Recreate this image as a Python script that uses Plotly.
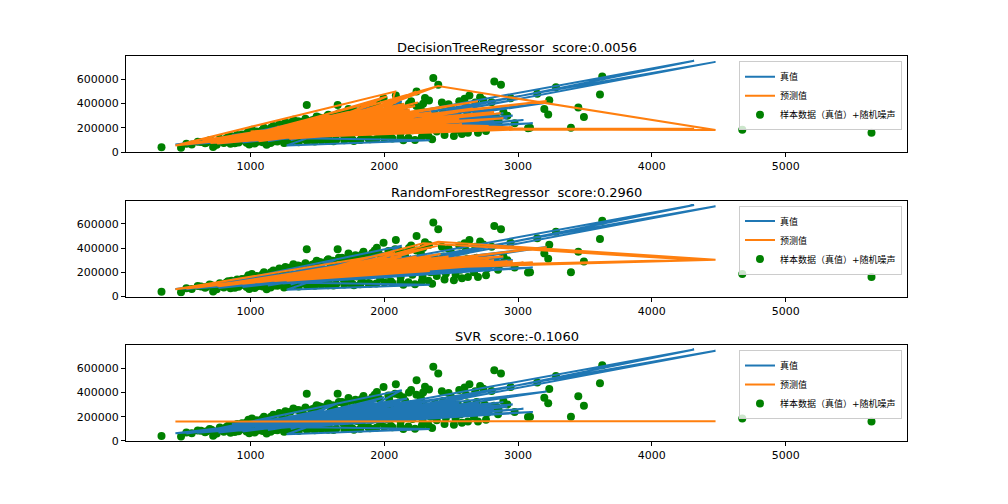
import plotly.graph_objects as go

# training samples (GrLivArea, SalePrice)
train_x = [334, 480, 520, 560, 605, 630, 660, 672, 694, 708, 720, 729, 747, 760, 770, 796,
           816, 832, 845, 858, 864, 882, 894, 900, 912, 925, 936, 948, 960, 970, 984, 990, 996,
           1008, 1022, 1040, 1052, 1064, 1078, 1086, 1094, 1108, 1120, 1128, 1140, 1152, 1164, 1176, 1188, 1196,
           1208, 1218, 1230, 1242, 1250, 1262, 1274, 1286, 1298, 1310, 1318, 1330, 1342, 1354, 1366, 1378, 1390, 1398,
           1408, 1420, 1430, 1442, 1454, 1466, 1478, 1490, 1502, 1514, 1526, 1538, 1550, 1562, 1574, 1586, 1596,
           1608, 1620, 1632, 1651, 1660, 1672, 1684, 1696, 1708, 1720, 1732, 1744, 1756, 1768, 1772, 1784, 1796,
           1808, 1820, 1832, 1844, 1856, 1868, 1880, 1893, 1904, 1916, 1928, 1944, 1956, 1968, 1980, 1994, 1998,
           2010, 2022, 2036, 2048, 2060, 2072, 2086, 2098, 2110, 2122, 2134, 2142, 2156, 2170, 2184, 2196,
           2210, 2229, 2241, 2250, 2262, 2274, 2286, 2304, 2318, 2334, 2346, 2357, 2366, 2380, 2392, 2403,
           2420, 2440, 2460, 2480, 2500, 2520, 2533, 2550, 2570, 2590, 2610, 2625, 2636, 2650, 2670, 2690,
           2716, 2730, 2750, 2770, 2802, 2822, 2840, 2855, 2872, 2890, 2920, 2944, 2974,
           3074, 3089, 3143, 3196, 3225, 3233, 3283, 3395, 3450, 3492, 3612, 3629, 4676, 5642,
           1010, 1045, 1100, 1170, 1215, 1260, 1320, 1370, 1410, 1460, 1494, 1530, 1581, 1615, 1660, 1700, 1740,
           1790, 1830, 1870, 1910, 1960, 2030, 2080, 2140, 2200, 2240, 2290, 2430, 2480, 2560, 2600, 2680, 2740,
           740, 800, 850, 910, 970, 1030, 1090, 1150, 1200, 1260, 1310, 1360, 1420, 1480, 1530, 1580,
           1640, 1700, 1760, 1820, 1880, 1940, 2000, 2060, 2120, 2180, 2280, 2330, 2450, 2580, 2700, 2760,
           780, 820, 870, 920, 980, 1020, 1060, 1120, 1180, 1240, 1290, 1340, 1400, 1450, 1500, 1560, 1610, 1650, 1700,
           1760, 1800, 1850, 1900, 1950, 2000, 2050, 2100, 2160, 2220, 2300, 2380, 2460, 2540, 2620, 2700, 2780, 2820, 2850]
train_y = [39300, 35000, 68500, 62000, 86000, 82500, 72000, 80000, 98000, 92000, 42000, 55000, 60000, 85000, 110000, 98000,
           107000, 125000, 118500, 130000, 96000, 73000, 118000, 140000, 128000, 110000, 145000, 95000, 135000, 152000, 175000, 62000, 115000,
           130000, 105000, 158000, 85000, 142000, 120000, 180000, 98000, 135000, 60000, 155000, 118000, 200000, 140000, 90000, 165000, 128000,
           145000, 110000, 215000, 160000, 75000, 138000, 180000, 120000, 240000, 155000, 95000, 170000, 135000, 255000, 190000, 110000, 160000, 215000,
           140000, 389000, 175000, 100000, 230000, 160000, 270000, 135000, 195000, 285000, 150000, 115000, 210000, 175000, 300000, 140000, 240000,
           185000, 90000, 260000, 389000, 160000, 210000, 320000, 140000, 230000, 185000, 355000, 110000, 250000, 200000, 92000, 340000, 165000,
           220000, 280000, 135000, 370000, 190000, 240000, 310000, 105000, 175000, 260000, 380000, 403000, 215000, 150000, 290000, 444000, 200000,
           250000, 180000, 345000, 125000, 230000, 300000, 467000, 200000, 380000, 160000, 270000, 97500, 330000, 215000, 400000, 240000,
           180000, 100000, 500000, 290000, 230000, 350000, 160000, 447000, 260000, 425000, 200000, 106000, 611657, 310000, 170000, 556000,
           240000, 330000, 190000, 270000, 360000, 133000, 180000, 300000, 220000, 250000, 380000, 160000, 467000, 290000, 200000, 320000,
           453000, 260000, 300000, 230000, 411000, 583000, 280000, 250000, 556000, 330000, 300000, 444000, 239000,
           197000, 200000, 481000, 356000, 311000, 428000, 535000, 200000, 369000, 289000, 475000, 625000, 184750, 160000,
           185000, 170000, 200000, 215000, 230000, 244000, 267000, 250000, 275000, 262000, 294000, 280000, 308000, 295000, 320000, 300000, 330000,
           315000, 345000, 335000, 360000, 350000, 375000, 390000, 360000, 420000, 380000, 400000, 410000, 395000, 420000, 440000, 410000, 430000,
           65000, 75000, 68000, 80000, 78000, 70000, 82000, 75000, 88000, 80000, 90000, 82000, 92000, 88000, 95000, 92000,
           100000, 98000, 105000, 100000, 112000, 108000, 115000, 112000, 120000, 118000, 125000, 130000, 140000, 150000, 160000, 175000,
           95000, 115000, 105000, 120000, 110000, 140000, 130000, 145000, 135000, 150000, 140000, 160000, 150000, 170000, 160000, 185000, 175000, 200000, 190000,
           215000, 200000, 225000, 210000, 240000, 225000, 260000, 245000, 275000, 260000, 290000, 270000, 300000, 280000, 310000, 270000, 250000, 290000, 220000]

# test samples in plotting order, with true value and each model's prediction
test_x = [1262, 2090, 860, 1710, 2640, 1100, 1520, 780, 2200, 1340, 1960, 1040, 3110, 1440, 2470,
          960, 1800, 1150, 2000, 2080, 438, 1620, 4476, 2402, 1880, 1230, 2870, 1590, 4316, 2290,
          1380, 720, 2130, 1660, 1000, 2340, 1270, 1760, 2560, 1480, 880, 3213, 1920, 1190, 2400,
          1560, 2740, 1330, 2050, 820, 1700, 1120, 2180, 1420, 940, 2710, 1840, 1060, 2510, 1600,
          1300, 2074, 700, 1980, 1500, 2920, 1210, 1750, 2260, 1080, 1640, 2600, 1360, 900, 2150,
          1460, 1900, 3040, 1180, 1820, 1540, 2320, 1010, 1690, 2440, 1280, 2030, 760, 1580, 2700,
          1150, 2230, 640, 1790, 1050, 2580, 1390, 1940, 980, 1720, 2110, 1240, 2820, 1470, 860,
          2020, 1320, 1650, 1130, 2480, 1560, 750, 2170, 1400, 1870, 1030, 2660, 1610, 1200, 2060,
          920, 1730, 2370, 1290, 1990, 800, 1510, 2250, 1110, 1680, 2960, 1350, 1850, 600, 2120,
          1430, 2550, 1070, 1780, 1250, 2420, 1570, 1930, 890, 1630, 2270, 1170, 2780, 1490, 2040,
          970, 1740, 2190, 1310, 1860, 520, 1530, 2100, 1220, 2650, 1410, 1950, 1090, 1670, 2350,
          840, 1770, 2560, 1370, 2000, 1140, 1620, 2240, 1450, 2890, 1710, 1020, 2160, 1550, 680]
test_y = [142000, 240000, 118000, 205000, 215000, 100000, 250000, 85000, 330000, 162000, 175000, 139000, 239000, 120000, 225000,
          132000, 290000, 127000, 305000, 275000, 62000, 150000, 745000, 345000, 215000, 180000, 295000, 205000, 755000, 300000,
          190000, 95000, 419000, 140000, 120000, 97000, 55000, 240000, 260000, 178000, 105000, 408000, 196000, 158000, 280000,
          130000, 250000, 135000, 160000, 92000, 265000, 165000, 255000, 150000, 78000, 310000, 185000, 110000, 200000, 220000,
          98000, 330000, 90000, 230000, 170000, 280000, 128000, 175000, 210000, 145000, 190000, 350000, 115000, 125000, 195000,
          200000, 150000, 265000, 115000, 250000, 160000, 265000, 100000, 230000, 240000, 170000, 210000, 70000, 185000, 230000,
          150000, 260000, 75000, 210000, 125000, 300000, 170000, 330000, 95000, 160000, 280000, 108000, 260000, 215000, 140000,
          200000, 150000, 310000, 90000, 330000, 185000, 100000, 350000, 125000, 240000, 160000, 280000, 170000, 140000, 190000,
          112000, 275000, 230000, 128000, 260000, 110000, 145000, 240000, 132000, 200000, 300000, 205000, 170000, 68000, 320000,
          140000, 215000, 118000, 300000, 160000, 350000, 150000, 280000, 92000, 240000, 190000, 145000, 270000, 190000, 240000,
          128000, 185000, 300000, 118000, 260000, 60000, 235000, 210000, 170000, 240000, 160000, 220000, 100000, 215000, 270000,
          102000, 195000, 310000, 148000, 360000, 120000, 175000, 220000, 175000, 320000, 150000, 110000, 260000, 200000, 85000]
tree_pred = [155000, 410000, 95000, 180000, 300000, 135000, 200000, 120000, 260000, 140000, 310000, 110000, 190000, 165000, 250000,
             100000, 215000, 160000, 190000, 500000, 55000, 190000, 183000, 545000, 380000, 145000, 320000, 190000, 195000, 180000,
             230000, 80000, 270000, 220000, 170000, 230000, 120000, 160000, 210000, 140000, 135000, 422000, 250000, 110000, 545000,
             200000, 190000, 175000, 345000, 105000, 145000, 130000, 210000, 250000, 125000, 260000, 200000, 90000, 290000, 170000,
             160000, 333000, 75000, 175000, 205000, 200000, 150000, 240000, 320000, 120000, 175000, 190000, 195000, 90000, 400000,
             150000, 220000, 195000, 140000, 300000, 135000, 280000, 150000, 205000, 185000, 125000, 270000, 100000, 230000, 420000,
             120000, 380000, 95000, 260000, 105000, 230000, 140000, 420000, 140000, 190000, 180000, 175000, 330000, 160000, 85000,
             460000, 130000, 225000, 150000, 250000, 300000, 70000, 220000, 185000, 170000, 120000, 360000, 140000, 210000, 240000,
             130000, 330000, 195000, 110000, 350000, 90000, 195000, 410000, 100000, 250000, 205000, 165000, 290000, 80000, 260000,
             120000, 330000, 160000, 200000, 140000, 250000, 170000, 230000, 115000, 160000, 300000, 130000, 215000, 250000, 195000,
             92000, 280000, 350000, 145000, 190000, 70000, 215000, 300000, 120000, 180000, 230000, 265000, 140000, 185000, 330000,
             100000, 245000, 270000, 175000, 230000, 185000, 145000, 500000, 150000, 280000, 210000, 95000, 215000, 240000, 105000]
forest_pred = [150000, 300000, 110000, 195000, 280000, 125000, 215000, 98000, 290000, 150000, 240000, 128000, 283000, 160000, 300000,
               120000, 240000, 140000, 250000, 360000, 60000, 215000, 304000, 452000, 290000, 155000, 330000, 230000, 304000, 440000,
               175000, 90000, 330000, 190000, 125000, 210000, 130000, 210000, 270000, 170000, 112000, 406000, 230000, 140000, 420000,
               175000, 260000, 150000, 250000, 95000, 200000, 135000, 270000, 190000, 105000, 300000, 220000, 118000, 290000, 205000,
               140000, 310000, 88000, 230000, 180000, 290000, 138000, 215000, 280000, 130000, 195000, 320000, 155000, 110000, 290000,
               175000, 210000, 280000, 128000, 250000, 165000, 310000, 118000, 210000, 270000, 150000, 250000, 85000, 195000, 330000,
               140000, 300000, 82000, 230000, 122000, 290000, 160000, 300000, 112000, 190000, 270000, 140000, 300000, 185000, 108000,
               320000, 150000, 240000, 128000, 330000, 215000, 88000, 300000, 160000, 225000, 130000, 320000, 185000, 150000, 245000,
               115000, 260000, 280000, 142000, 280000, 98000, 170000, 320000, 128000, 205000, 290000, 168000, 230000, 75000, 300000,
               160000, 290000, 125000, 245000, 148000, 350000, 180000, 260000, 105000, 210000, 270000, 135000, 300000, 190000, 255000,
               115000, 225000, 310000, 145000, 240000, 65000, 200000, 270000, 145000, 280000, 170000, 245000, 125000, 205000, 320000,
               100000, 220000, 320000, 160000, 290000, 138000, 190000, 330000, 172000, 330000, 195000, 120000, 280000, 190000, 84000]
svr_pred = [160900, 161100, 160800, 161000, 161200, 160900, 161000, 160800, 161100, 160900, 161100, 160900, 161300, 161000, 161200,
            160800, 161000, 160900, 161100, 161100, 160700, 161000, 161500, 161200, 161100, 160900, 161200, 161000, 161500, 161100,
            161000, 160800, 161100, 161000, 160900, 161100, 160900, 161000, 161200, 161000, 160800, 161300, 161100, 160900, 161200,
            161000, 161200, 160900, 161100, 160800, 161000, 160900, 161100, 161000, 160800, 161200, 161100, 160900, 161200, 161000,
            160900, 161100, 160800, 161100, 161000, 161200, 160900, 161000, 161100, 160900, 161000, 161200, 160900, 160800, 161100,
            161000, 161100, 161300, 160900, 161100, 161000, 161100, 160900, 161000, 161200, 160900, 161100, 160800, 161000, 161200,
            160900, 161100, 160800, 161100, 160900, 161200, 161000, 161100, 160800, 161000, 161100, 160900, 161200, 161000, 160800,
            161100, 160900, 161000, 160900, 161200, 161000, 160800, 161100, 161000, 161100, 160900, 161200, 161000, 160900, 161100,
            160800, 161000, 161200, 160900, 161100, 160800, 161000, 161100, 160900, 161000, 161200, 160900, 161100, 160700, 161100,
            161000, 161200, 160900, 161100, 160900, 161200, 161000, 161100, 160800, 161000, 161100, 160900, 161200, 161000, 161100,
            160800, 161000, 161100, 160900, 161100, 160700, 161000, 161100, 160900, 161200, 161000, 161100, 160900, 161000, 161200,
            160800, 161100, 161200, 160900, 161100, 160900, 161000, 161100, 161000, 161200, 161000, 160900, 161100, 161000, 160800]

model_names = ['DecisionTreeRegressor', 'RandomForestRegressor', 'SVR']
model_scores = [0.0056, 0.2960, -0.1060]
model_preds = [tree_pred, forest_pred, svr_pred]

label_true = '真值'
label_pred = '预测值'
label_train = '样本数据（真值）+随机噪声'

BLUE = '#1f77b4'
ORANGE = '#ff7f0e'
GREEN = '#008000'
FONT = 'DejaVu Sans, Noto Sans CJK SC, sans-serif'

W, H = 992, 488
# panel edges in figure pixels (top, bottom of each panel)
x_domain = [118 / W, 899 / W]
panel_px = [(49, 146.3), (195.5, 292.8), (342, 439.3)]
y_domains = [[1 - b / H, 1 - t / H] for t, b in panel_px]

fig = go.Figure()
annotations = []
layout_axes = {}

for i, (name, score, pred) in enumerate(zip(model_names, model_scores, model_preds)):
    n = '' if i == 0 else str(i + 1)
    leg = 'legend' + n
    fig.add_trace(go.Scatter(
        x=train_x, y=train_y, mode='markers', name=label_train,
        marker=dict(color=GREEN, size=8, line=dict(width=0)),
        xaxis='x' + n, yaxis='y' + n, legend=leg, legendrank=3
    ))
    fig.add_trace(go.Scatter(
        x=test_x, y=test_y, mode='lines', name=label_true,
        line=dict(color=BLUE, width=2),
        xaxis='x' + n, yaxis='y' + n, legend=leg, legendrank=1
    ))
    fig.add_trace(go.Scatter(
        x=test_x, y=pred, mode='lines', name=label_pred,
        line=dict(color=ORANGE, width=2),
        xaxis='x' + n, yaxis='y' + n, legend=leg, legendrank=2
    ))

    axis_style = dict(showline=True, mirror=True, linecolor='black', linewidth=1,
                      ticks='outside', ticklen=4, tickcolor='black', showgrid=False,
                      zeroline=False, tickfont=dict(size=11, color='black'))
    layout_axes['xaxis' + n] = dict(domain=x_domain, range=[68.6, 5907.4], tickvals=[1000, 2000, 3000, 4000, 5000],
                                    anchor='y' + n, **axis_style)
    layout_axes['yaxis' + n] = dict(domain=y_domains[i], range=[-1100, 791000], tickvals=[0, 200000, 400000, 600000],
                                    tickformat='d', anchor='x' + n, **axis_style)
    layout_axes[leg] = dict(
        x=894 / W, y=y_domains[i][1] - 5 / H, xanchor='right', yanchor='top',
        bgcolor='rgba(255,255,255,0.8)', bordercolor='#cccccc', borderwidth=1,
        font=dict(size=9, color='black', family=FONT), itemwidth=30, tracegroupgap=0
    )
    annotations.append(dict(
        text='%s  score:%.4f' % (name, score), xref='paper', yref='paper',
        x=sum(x_domain) / 2, y=y_domains[i][1], xanchor='center', yanchor='bottom', yshift=-1,
        showarrow=False, font=dict(size=13, color='black', family=FONT)
    ))

fig.update_layout(
    width=W, height=H,
    margin=dict(l=0, r=0, t=0, b=0),
    paper_bgcolor='white', plot_bgcolor='white',
    font=dict(family=FONT, color='black'),
    showlegend=True,
    annotations=annotations,
    **layout_axes
)

fig.write_html('out.html')
